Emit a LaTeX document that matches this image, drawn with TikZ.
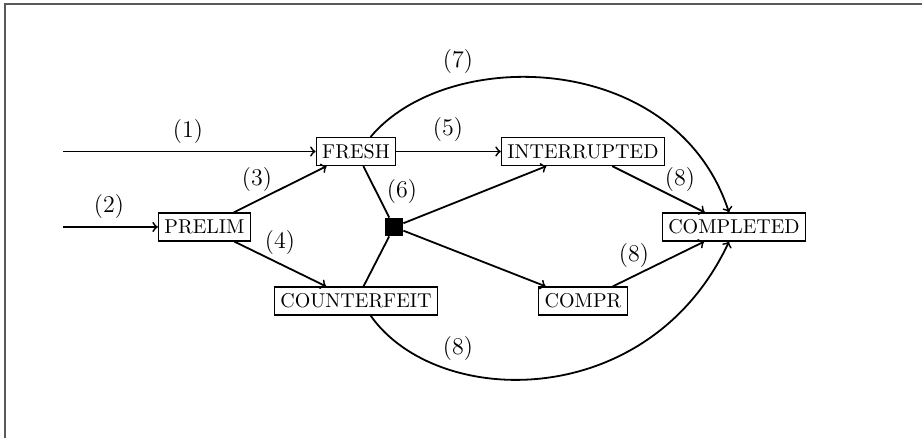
\documentclass[tikz,border=0pt]{standalone}
\usetikzlibrary{calc}
\begin{document}
\begin{tikzpicture}[x=0.5pt,y=-0.5pt,
  statebox/.style={draw, line width=0.6pt, rectangle, inner sep=3pt, minimum height=14pt, font=\normalsize},
  conn/.style={line width=0.9pt},
  lbl/.style={inner sep=0pt, font=\large}]
\useasboundingbox (0,0) rectangle (922,438);
\draw[gray!70!black, line width=0.8pt] (5,438) -- (5,4) -- (922,4);

\node[statebox] (fresh) at (356,151.5) {FRESH};
\node[statebox] (prelim) at (204.5,227) {PRELIM};
\node[statebox] (counter) at (356,301) {COUNTERFEIT};
\node[statebox] (inter) at (583,151.5) {INTERRUPTED};
\node[statebox] (compl) at (734,227) {COMPLETED};
\node[statebox] (compr) at (583,301) {COMPR};
\node[fill=black, minimum size=9pt, inner sep=0pt] (sq) at (394,227) {};

\coordinate (s1) at (63,151.5);
\coordinate (s2) at (63,227);

\draw[conn,->] (s1) -- (fresh);
\draw[conn,->] (s2) -- (prelim);
\draw[conn,->] (prelim) -- (fresh);
\draw[conn,->] (prelim) -- (counter);
\draw[conn,->] (fresh) -- (inter);
\draw[conn] (fresh) -- (sq);
\draw[conn] (counter) -- (sq);
\draw[conn,->] (sq) -- (inter);
\draw[conn,->] (sq) -- (compr);
\draw[conn,->] (inter) -- (compl);
\draw[conn,->] (compr) -- (compl);
\draw[conn,->] (fresh.45) .. controls ($(fresh.45)+(77,-92)$) and ($(compl.north)+(-58,-162)$) .. ($(compl.north)+(-5,0)$);
\draw[conn,->] (counter.-45) .. controls ($(counter.-45)+(66,94)$) and ($(compl.south)+(-85,171)$) .. ($(compl.south)+(-5,0)$);

\node[lbl] (l1) at (188,132) {(1)};
\node[lbl] (l2) at (109,207) {(2)};
\node[lbl] (l3) at (257,180) {(3)};
\node[lbl] (l4) at (280,243) {(4)};
\node[lbl] (l5) at (448,130) {(5)};
\node[lbl] (l6) at (402,192) {(6)};
\node[lbl] (l7) at (458,62) {(7)};
\node[lbl] (l8a) at (680,180) {(8)};
\node[lbl] (l8b) at (634,256) {(8)};
\node[lbl] (l8c) at (458,349) {(8)};
\end{tikzpicture}
\end{document}
